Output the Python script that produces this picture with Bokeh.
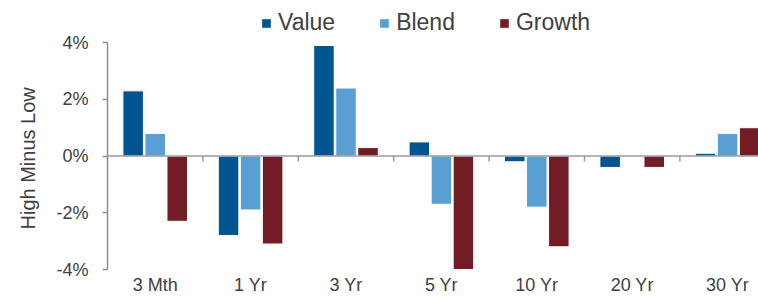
import numpy as np
from bokeh.plotting import figure
from bokeh.models import (ColumnDataSource, Range1d, FixedTicker, PrintfTickFormatter,
                          Span, Legend, LegendItem, Title)
from bokeh.embed import file_html
from bokeh.resources import INLINE

categories = ["3 Mth", "1 Yr", "3 Yr", "5 Yr", "10 Yr", "20 Yr", "30 Yr"]
value = [2.3, -2.8, 3.9, 0.5, -0.2, -0.4, 0.1]
blend = [0.8, -1.9, 2.4, -1.7, -1.8, 0.0, 0.8]
growth = [-2.3, -3.1, 0.3, -4.0, -3.2, -0.4, 1.0]
series_names = ["Value", "Blend", "Growth"]
colors = ["#00548F", "#5A9FD3", "#721C26"]
y_ticks = [-4, -2, 0, 2, 4]
y_title = "High Minus Low"

FONT = "Liberation Sans"
TXT = "#404040"

n = len(categories)
centers = np.arange(n) + 0.5

p = figure(width=758, height=297, output_backend="svg", toolbar_location=None,
           x_range=Range1d(0, 6.824), y_range=Range1d(-4.035, 5.487),
           min_border_left=107, min_border_right=0, min_border_top=0, min_border_bottom=0)
p.outline_line_color = None
p.grid.visible = False
p.background_fill_color = "white"
p.border_fill_color = "white"

offsets = [-0.231, 0.0, 0.231]
renderers = []
for name, vals, col, off in zip(series_names, [value, blend, growth], colors, offsets):
    src = ColumnDataSource(dict(x=centers + off, top=vals))
    r = p.vbar(x="x", top="top", bottom=0, width=0.215, source=src,
               fill_color=col, line_color="white", line_width=1)
    renderers.append((name, r))

# zero line and group separators
p.add_layout(Span(location=0, dimension="width", line_color="#9a9a9a", line_width=1.5))
bounds = np.arange(1, n)
p.segment(x0=bounds, x1=bounds, y0=np.zeros(len(bounds)), y1=np.full(len(bounds), -0.19),
          line_color="#9a9a9a", line_width=1.5)

# x axis: labels only
xa = p.xaxis[0]
xa.ticker = FixedTicker(ticks=list(centers))
xa.major_label_overrides = {float(c): lab for c, lab in zip(centers, categories)}
xa.axis_line_color = None
xa.major_tick_line_color = None
xa.major_tick_out = 0
xa.major_tick_in = 0
xa.minor_tick_line_color = None
xa.minor_tick_out = 0
xa.major_label_standoff = 4
xa.major_label_text_font = FONT
xa.major_label_text_font_size = "18px"
xa.major_label_text_color = TXT

# y axis
ya = p.yaxis[0]
ya.ticker = FixedTicker(ticks=y_ticks)
ya.formatter = PrintfTickFormatter(format="%d%%")
ya.bounds = (-4, 4)
ya.axis_line_color = "#8c8c8c"
ya.axis_line_width = 1.5
ya.major_tick_line_color = "#8c8c8c"
ya.major_tick_line_width = 1.5
ya.major_tick_out = 5
ya.major_tick_in = 0
ya.minor_tick_line_color = None
ya.minor_tick_out = 0
ya.major_label_standoff = 14
ya.major_label_text_font = FONT
ya.major_label_text_font_size = "18px"
ya.major_label_text_color = TXT

# y-axis title, centred on the -4%..4% span
p.add_layout(Title(text=y_title, align="left", offset=41, standoff=29,
                   text_font=FONT, text_font_size="20px", text_font_style="normal",
                   text_color=TXT), "left")

legend = Legend(items=[LegendItem(label=nm, renderers=[r]) for nm, r in renderers],
                orientation="horizontal", location=(153, 234),
                glyph_width=12, glyph_height=12, label_standoff=6, spacing=43,
                padding=0, margin=0, border_line_color=None, background_fill_alpha=0,
                label_text_font=FONT, label_text_font_size="23px", label_text_color=TXT)
p.add_layout(legend)

open("out.html", "w").write(file_html(p, INLINE))
